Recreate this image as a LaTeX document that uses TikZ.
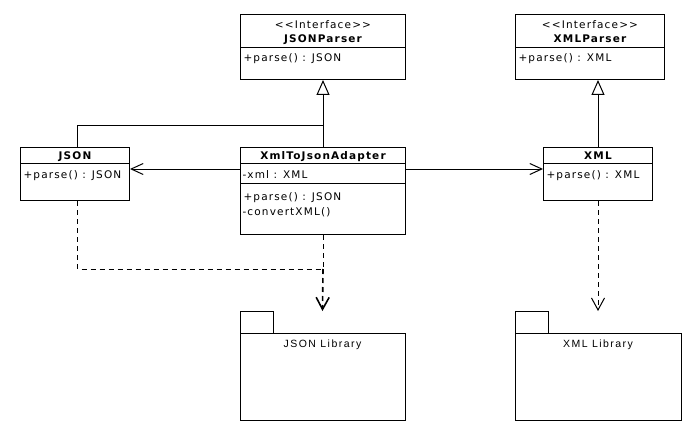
\documentclass[tikz,border=0pt]{standalone}
\usepackage{fontspec}
\newfontfamily\umlfont{DejaVu Sans}[LetterSpace=11]
\newfontfamily\pkgfont{Liberation Sans}[LetterSpace=14]
\usetikzlibrary{arrows.meta}

\begin{document}
\begin{tikzpicture}[x=1pt, y=-1pt, line width=1pt,
 font=\umlfont\fontsize{10.5}{12}\selectfont,
 cls/.style={draw, rectangle, inner sep=0pt, anchor=north west},
 title/.style={font=\umlfont\bfseries\fontsize{10.5}{12}\selectfont, inner sep=0pt, anchor=base},
 stereo/.style={inner sep=0pt, anchor=base},
 member/.style={inner sep=0pt, anchor=base west},
 pkg/.style={inner sep=0pt, anchor=north west, minimum height=108pt},
 pkglabel/.style={font=\pkgfont\fontsize{10.5}{12}\selectfont, inner sep=0pt, anchor=base},
 gen/.style={-{Triangle[open, length=15pt, width=13pt]}},
 assoc/.style={-{Straight Barb[length=12pt, width=11pt]}},
 dep/.style={dash pattern=on 5pt off 4pt},
 deptip/.style={dep, -{Straight Barb[length=12pt, width=13pt]}}]
\useasboundingbox[fill=white] (0,0) rectangle (695,433);

% interfaces
\node[cls, minimum width=165pt, minimum height=65pt] (jsonparser) at (240,14) {};
\node[stereo] (jsonparser-s) at ([yshift=-15pt]jsonparser.north) {<<Interface>>};
\node[title] (jsonparser-t) at ([yshift=-29pt]jsonparser.north) {JSONParser};
\draw ([yshift=-34pt]jsonparser.north west) -- ([yshift=-34pt]jsonparser.north east);
\node[member] (jsonparser-m) at ([xshift=3pt, yshift=-48pt]jsonparser.north west) {+parse() : JSON};

\node[cls, minimum width=149pt, minimum height=65pt] (xmlparser) at (515,14) {};
\node[stereo] (xmlparser-s) at ([yshift=-15pt]xmlparser.north) {<<Interface>>};
\node[title] (xmlparser-t) at ([yshift=-29pt]xmlparser.north) {XMLParser};
\draw ([yshift=-34pt]xmlparser.north west) -- ([yshift=-34pt]xmlparser.north east);
\node[member] (xmlparser-m) at ([xshift=3pt, yshift=-48pt]xmlparser.north west) {+parse() : XML};

% classes
\node[cls, minimum width=109pt, minimum height=53pt] (json) at (20,147) {};
\node[title] (json-t) at ([yshift=-12pt]json.north) {JSON};
\draw ([yshift=-16pt]json.north west) -- ([yshift=-16pt]json.north east);
\node[member] (json-m) at ([xshift=3pt, yshift=-31pt]json.north west) {+parse() : JSON};

\node[cls, minimum width=165pt, minimum height=87pt] (adapter) at (240,147) {};
\node[title] (adapter-t) at ([yshift=-12pt]adapter.north) {XmlToJsonAdapter};
\draw ([yshift=-16pt]adapter.north west) -- ([yshift=-16pt]adapter.north east);
\node[member] (adapter-a) at ([xshift=2pt, yshift=-31pt]adapter.north west) {-xml : XML};
\draw ([yshift=-36pt]adapter.north west) -- ([yshift=-36pt]adapter.north east);
\node[member] (adapter-m1) at ([xshift=3pt, yshift=-53pt]adapter.north west) {+parse() : JSON};
\node[member] (adapter-m2) at ([xshift=2pt, yshift=-68pt]adapter.north west) {-convertXML()};

\node[cls, minimum width=109pt, minimum height=53pt] (xml) at (543,147) {};
\node[title] (xml-t) at ([yshift=-12pt]xml.north) {XML};
\draw ([yshift=-16pt]xml.north west) -- ([yshift=-16pt]xml.north east);
\node[member] (xml-m) at ([xshift=3pt, yshift=-31pt]xml.north west) {+parse() : XML};

% packages
\node[pkg, minimum width=164pt] (jsonlib) at (240,311) {};
\draw ([yshift=-22pt]jsonlib.north west) rectangle (jsonlib.south east);
\draw (jsonlib.north west) rectangle ([xshift=33pt, yshift=-22pt]jsonlib.north west);
\node[pkglabel] (jsonlib-l) at ([yshift=-36pt]jsonlib.north) {JSON Library};

\node[pkg, minimum width=165pt] (xmllib) at (515,311) {};
\draw ([yshift=-22pt]xmllib.north west) rectangle (xmllib.south east);
\draw (xmllib.north west) rectangle ([xshift=33pt, yshift=-22pt]xmllib.north west);
\node[pkglabel] (xmllib-l) at ([yshift=-36pt]xmllib.north) {XML Library};

% connectors
\draw[gen] ([xshift=2.5pt]json.north) -- ++(0,-22) -| (jsonparser.south);
\draw (adapter.north) -- ++(0,-22);
\draw[gen] (xml.north) -- (xml.north |- xmlparser.south);
\draw[assoc] ([yshift=-22pt]adapter.north west) -- ([yshift=-22pt]json.north east);
\draw[assoc] ([yshift=-22pt]adapter.north east) -- ([yshift=-22pt]xml.north west);
\coordinate (jdep) at ([yshift=-34pt]adapter.south);
\draw[dep] ([xshift=2.5pt]json.south) |- (jdep);
\draw[dep] (adapter.south) -- (jdep);
\draw[deptip, line width=1.6pt] (jdep) -- (jsonlib.north);
\draw[deptip] (xml.south) -- (xmllib.north);
\end{tikzpicture}
\end{document}
